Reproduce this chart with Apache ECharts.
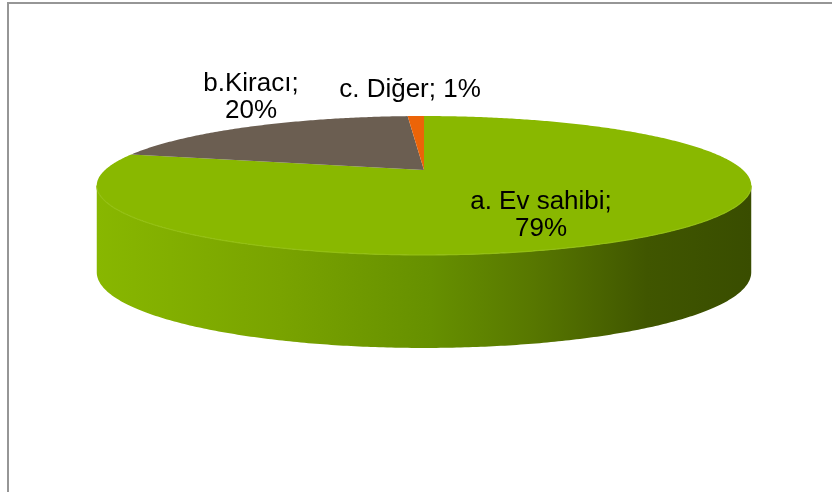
<!DOCTYPE html>
<html lang="tr">
<head>
    <meta charset="UTF-8">
    <title>Konut durumu</title>
    <script src="https://cdn.jsdelivr.net/npm/echarts@6/dist/echarts.min.js"></script>
</head>
<style>
    html, body {
        margin: 0;
        height: 100%;
        background: #fff;
    }
</style>
<body>
<div id="main" style="width: 832px;height:492px"></div>
<script type="text/javascript">
    // veriler
    var categories = ['a. Ev sahibi', 'b.Kiracı', 'c. Diğer'];
    var shares = [79, 20, 1];
    var labelBreak = [true, true, false];

    // renkler
    var topColors = ['#89b800', '#6b5e51', '#ec6408'];
    var sideColors = ['#6d9900', '#4f453b', '#b24c06'];

    // yerlesim (perspektifli 3B pasta)
    var pie = {cx: 424, cy: 170, R: 319, S: 66, p: 0.223, depth: 85, depthFront: 8};
    var labelAt = [[541, 215], [251, 97], [410, 90]];

    var total = shares.reduce(function (a, b) { return a + b; }, 0);
    var rows = [];
    var acc = 0;
    for (var i = 0; i < shares.length; i++) {
        rows.push([acc, shares[i], i]);
        acc += shares[i];
    }

    function pt(t, down) {
        var w = 1 - pie.p * Math.sin(t);
        var y = pie.cy + pie.S * Math.sin(t) / w;
        if (down) y += pie.depth + pie.depthFront * Math.sin(t);
        return [pie.cx + pie.R * Math.cos(t) / w, y];
    }

    function arc(a, b, down) {
        var pts = [];
        var n = Math.max(2, Math.ceil((b - a) / 0.01));
        for (var k = 0; k <= n; k++) {
            pts.push(pt(a + (b - a) * k / n, down));
        }
        return pts;
    }

    var sideGreen = new echarts.graphic.LinearGradient(97, 0, 752, 0, [
        {offset: 0, color: '#88b700'},
        {offset: 0.28, color: '#79a300'},
        {offset: 0.51, color: '#669000'},
        {offset: 0.66, color: '#587800'},
        {offset: 0.84, color: '#405600'},
        {offset: 1, color: '#394d00'}
    ], true);

    function renderItem(params, api) {
        var start = api.value(0), val = api.value(1), idx = api.value(2);
        var a = -Math.PI / 2 + 2 * Math.PI * start / total;
        var b = a + 2 * Math.PI * val / total;
        var children = [];

        // on yuz (gorunen kenar)
        var fl = Math.asin(pie.p), fr = Math.PI - Math.asin(pie.p);
        [-2 * Math.PI, 0, 2 * Math.PI].forEach(function (off) {
            var s = Math.max(a, fl + off), e = Math.min(b, fr + off);
            if (e > s) {
                var pts = arc(s, e, false).concat(arc(s, e, true).reverse());
                children.push({
                    type: 'polygon',
                    shape: {points: pts},
                    style: {fill: idx === 0 ? sideGreen : sideColors[idx]},
                    z2: 1
                });
                // ust kenarda ince acik cizgi
                children.push({
                    type: 'polyline',
                    shape: {points: arc(s, e, false)},
                    style: {fill: null, stroke: '#93bf12', lineWidth: 1.2},
                    z2: 3
                });
            }
        });

        // ust yuz
        children.push({
            type: 'polygon',
            shape: {points: [[pie.cx, pie.cy]].concat(arc(a, b, false))},
            style: {fill: topColors[idx]},
            z2: 2
        });

        var txt = categories[idx] + ';' + (labelBreak[idx] ? '\n' : ' ') + shares[idx] + '%';
        children.push({
            type: 'text',
            style: {
                text: txt,
                x: labelAt[idx][0],
                y: labelAt[idx][1],
                fill: '#000',
                font: '26px "Liberation Sans", Arial, sans-serif',
                lineHeight: 27,
                align: 'center',
                verticalAlign: 'middle'
            },
            z2: 10
        });
        return {type: 'group', children: children};
    }

    var myChart = echarts.init(document.getElementById('main'));
    var option = {
        backgroundColor: '#fff',
        animation: false,
        graphic: [{
            type: 'rect',
            shape: {x: 8, y: 3, width: 900, height: 600},
            style: {fill: 'none', stroke: '#969696', lineWidth: 2},
            silent: true
        }],
        series: [{
            type: 'custom',
            coordinateSystem: 'none',
            silent: true,
            renderItem: renderItem,
            data: rows
        }]
    };
    myChart.setOption(option);
</script>
</body>
</html>
